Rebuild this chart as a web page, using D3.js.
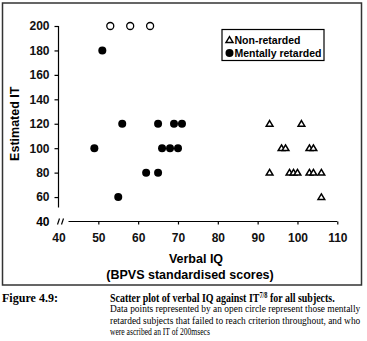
<html>
<head>
<script src="https://d3js.org/d3.v7.min.js"></script>
<style type="text/css">
  body { margin: 0; background: #fff; }
  .tick text { font-family: Arial, "Liberation Sans", sans-serif; font-weight: bold; font-size: 12px; fill: #111; }
</style>
</head>
<body>
<svg id="viz" width="367" height="341"></svg>
<script>
// Verbal IQ (x) and estimated IT (y) for each group
var failedIQ = [53, 58, 63];
var failedIT = [200, 200, 200];
var retardedIQ = [51, 56, 65, 69, 71, 49, 66, 68, 70, 62, 65, 55];
var retardedIT = [180, 120, 120, 120, 120, 100, 100, 100, 100, 80, 80, 60];
var normalIQ = [93, 101, 96, 97, 103, 104, 93, 98, 99, 100, 103, 104, 106, 106];
var normalIT = [120, 120, 100, 100, 100, 100, 80, 80, 80, 80, 80, 80, 80, 60];
var xTicks = [40, 50, 60, 70, 80, 90, 100, 110];
var yTicks = [60, 80, 100, 120, 140, 160, 180, 200];
var legendLabels = ["Non-retarded", "Mentally retarded"];

var svg = d3.select("#viz");
var sans = "Arial, 'Liberation Sans', sans-serif";
var serif = "'Times New Roman', 'Liberation Serif', serif";

var x = d3.scaleLinear().domain([40, 110]).range([58.5, 337.3]);
var y = d3.scaleLinear().domain([40, 200]).range([221.5, 26]);

// outer frame
svg.append("rect")
  .attr("x", 2.5).attr("y", 3).attr("width", 359).attr("height", 282)
  .style("fill", "none").style("stroke", "#333").style("stroke-width", 1.5);

// y axis (stops short of 40 because of the break)
var yAxis = svg.append("g")
  .attr("transform", "translate(" + x(40) + ",0)")
  .call(d3.axisLeft(y).tickValues(yTicks).tickSize(4).tickPadding(5));
yAxis.select(".domain").attr("d", "M0," + y(200) + "V" + (y(40) - 14));
yAxis.selectAll("line, .domain").style("stroke", "#000").style("stroke-width", 1.2);

// x axis starts after the // break
var xAxis = svg.append("g")
  .attr("transform", "translate(0," + y(40) + ")")
  .call(d3.axisBottom(x).tickValues(xTicks).tickSize(3).tickPadding(9));
xAxis.select(".domain").attr("d", "M" + (x(40) + 10) + ",0H" + x(110));
xAxis.selectAll("line, .domain").style("stroke", "#000").style("stroke-width", 1.2);
xAxis.selectAll(".tick").filter(function(d) { return d == 40; }).select("line").remove();

// 40 label on the y axis
svg.append("text")
  .attr("x", x(40) - 9).attr("y", y(40) + 4)
  .attr("text-anchor", "end")
  .style("font-family", sans).style("font-weight", "bold").style("font-size", "12px")
  .text("40");

// axis break marks
[0, 4].forEach(function(dx) {
  svg.append("line")
    .attr("x1", x(40) - 1 + dx).attr("y1", y(40) + 3)
    .attr("x2", x(40) + 1 + dx).attr("y2", y(40) - 3)
    .style("stroke", "#000").style("stroke-width", 1.2);
});

// axis titles
svg.append("text")
  .attr("transform", "translate(19," + y(120) + ") rotate(-90)")
  .attr("text-anchor", "middle")
  .style("font-family", sans).style("font-weight", "bold").style("font-size", "12.5px")
  .text("Estimated IT");
svg.append("text")
  .attr("x", 196).attr("y", 263)
  .attr("text-anchor", "middle")
  .style("font-family", sans).style("font-weight", "bold").style("font-size", "12.5px")
  .text("Verbal IQ");
svg.append("text")
  .attr("x", 190).attr("y", 279)
  .attr("text-anchor", "middle")
  .style("font-family", sans).style("font-weight", "bold").style("font-size", "12.5px")
  .text("(BPVS standardised scores)");

function tri(cx, cy, s) {
  return "M" + cx + "," + (cy - s) + "L" + (cx + s * 1.05) + "," + (cy + s * 0.75) + "L" + (cx - s * 1.05) + "," + (cy + s * 0.75) + "Z";
}

// non-retarded triangles
svg.selectAll(".tri")
  .data(d3.range(normalIQ.length))
  .enter()
  .append("path")
    .attr("class", "tri")
    .attr("d", function(i) { return tri(x(normalIQ[i]), y(normalIT[i]), 3.2); })
    .style("fill", "#fff").style("stroke", "#000").style("stroke-width", 1.5);

// mentally retarded filled dots
svg.selectAll(".dot")
  .data(d3.range(retardedIQ.length))
  .enter()
  .append("circle")
    .attr("class", "dot")
    .attr("cx", function(i) { return x(retardedIQ[i]); })
    .attr("cy", function(i) { return y(retardedIT[i]); })
    .attr("r", 4)
    .style("fill", "#000");

// failed to reach criterion: open circles
svg.selectAll(".open")
  .data(d3.range(failedIQ.length))
  .enter()
  .append("circle")
    .attr("class", "open")
    .attr("cx", function(i) { return x(failedIQ[i]); })
    .attr("cy", function(i) { return y(failedIT[i]); })
    .attr("r", 3.5)
    .style("fill", "#fff").style("stroke", "#000").style("stroke-width", 1.3);

// legend
var leg = svg.append("g");
leg.append("rect")
  .attr("x", 222).attr("y", 29.5).attr("width", 102).attr("height", 31)
  .style("fill", "#fff").style("stroke", "#000").style("stroke-width", 1.2);
leg.append("path").attr("d", tri(229.5, 40, 3.4))
  .style("fill", "#fff").style("stroke", "#000").style("stroke-width", 1.4);
leg.append("circle").attr("cx", 229.5).attr("cy", 53).attr("r", 4).style("fill", "#000");
leg.selectAll("text.lab")
  .data(legendLabels)
  .enter()
  .append("text")
    .attr("class", "lab")
    .attr("x", 234.5)
    .attr("y", function(d, i) { return 43.5 + i * 13.5; })
    .style("font-family", sans).style("font-weight", "bold").style("font-size", "10.5px")
    .text(function(d) { return d; });

// caption: the scan is narrow, so squeeze each line to its width
function squeeze(sel, x0, y0, w) {
  var natural = sel.node().getBBox().width;
  sel.attr("transform", "translate(" + x0 + "," + y0 + ") scale(" + (w / natural) + ",1)");
}

var fig = svg.append("text")
  .style("font-family", serif).style("font-weight", "bold").style("font-size", "12.5px")
  .text("Figure 4.9:");
squeeze(fig, 2, 301.5, 56);

var cap = svg.append("text")
  .style("font-family", serif).style("font-weight", "bold").style("font-size", "12.5px");
cap.append("tspan").text("Scatter plot of verbal IQ against IT");
cap.append("tspan").attr("dy", -4).style("font-size", "8px").text("7/8");
cap.append("tspan").attr("dy", 4).text(" for all subjects.");
squeeze(cap, 110, 301.5, 225);

var body = [
  "Data points represented by an open circle represent those mentally",
  "retarded subjects that failed to reach criterion throughout, and who",
  "were ascribed an IT of 200msecs"
];
var bodyWidths = [251, 251, 100];
body.forEach(function(line, i) {
  var t = svg.append("text")
    .style("font-family", serif).style("font-size", "11px")
    .text(line);
  squeeze(t, 110, 312 + i * 11.7, bodyWidths[i]);
});
</script>
</body>
</html>
